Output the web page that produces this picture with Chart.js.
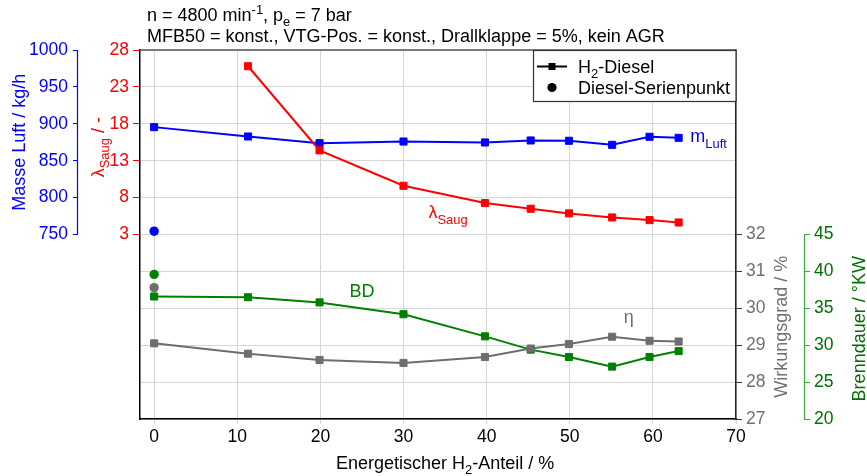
<!DOCTYPE html>
<html>
<head>
<meta charset="utf-8">
<script src="https://cdn.jsdelivr.net/npm/chart.js@4.4.1/dist/chart.umd.min.js"></script>
<style>
  html, body { margin: 0; padding: 0; background: #ffffff; }
  canvas { display: block; }
</style>
</head>
<body>
<canvas id="chart" width="867" height="476"></canvas>
<script>
// Energetic hydrogen share (%) of the H2-diesel operating points
const H2_ANTEIL = [0, 11.3, 19.9, 30.0, 39.8, 45.3, 49.9, 55.1, 59.6, 63.1];
// Air mass flow (kg/h)
const MASSE_LUFT = [895.5, 882.8, 873.8, 876.0, 874.7, 877.4, 877.0, 871.5, 882.4, 881.0];
// Intake air ratio lambda (-), no value for pure diesel
const LAMBDA_SAUG = [null, 25.8, 14.4, 9.6, 7.26, 6.49, 5.86, 5.31, 4.95, 4.63];
// Combustion duration (°CA)
const BRENNDAUER = [36.6, 36.5, 35.8, 34.2, 31.2, 29.4, 28.4, 27.1, 28.4, 29.2];
// Efficiency (%)
const WIRKUNGSGRAD = [29.05, 28.77, 28.60, 28.52, 28.68, 28.91, 29.03, 29.23, 29.12, 29.10];

// Diesel series operating point
const SERIE_H2 = [0];
const SERIE_MASSE_LUFT = [754.5];
const SERIE_BRENNDAUER = [39.6];
const SERIE_WIRKUNGSGRAD = [30.56];

// Tick labels shown on each axis
const X_TICKS = [0, 10, 20, 30, 40, 50, 60, 70];
const MASSE_TICKS = [750, 800, 850, 900, 950, 1000];
const LAMBDA_TICKS = [3, 8, 13, 18, 23, 28];
const ETA_TICKS = [27, 28, 29, 30, 31, 32];
const BD_TICKS = [20, 25, 30, 35, 40, 45];

const FONT = "'Liberation Sans', Arial, Helvetica, sans-serif";
const TEXT_SIZE = 18;
const COL = {
  blue: '#0000ff',
  red: '#ff0000',
  green: '#008000',
  greenAxis: '#3daa3d',
  greenText: '#007000',
  gray: '#6e6e6e',
  grayText: '#707070',
  grid: '#d6d6d6',
  frame: '#000000'
};

const points = (xs, ys) => xs.map((x, i) => ({ x, y: ys[i] })).filter(p => p.y !== null);
const fixedTicks = list => scale => { scale.ticks = list.map(v => ({ value: v })); };
const plainLabel = v => String(v);

// Text runs with sub- and superscripts: [[text, ''|'sub'|'sup'], ...]
function drawRich(ctx, parts, x, y, size, color, align) {
  const segs = parts.map(([t, k]) => {
    const fs = k ? size * 0.72 : size;
    const dy = k === 'sub' ? size * 0.30 : (k === 'sup' ? -size * 0.38 : 0);
    ctx.font = fs + 'px ' + FONT;
    return { t, fs, dy, w: ctx.measureText(t).width };
  });
  const total = segs.reduce((a, s) => a + s.w, 0);
  let cx = align === 'center' ? x - total / 2 : (align === 'right' ? x - total : x);
  ctx.fillStyle = color;
  ctx.textAlign = 'left';
  ctx.textBaseline = 'alphabetic';
  for (const s of segs) {
    ctx.font = s.fs + 'px ' + FONT;
    ctx.fillText(s.t, cx, y + s.dy);
    cx += s.w;
  }
}
function drawRichVertical(ctx, parts, baseX, centerY, size, color) {
  ctx.save();
  ctx.translate(baseX, centerY);
  ctx.rotate(-Math.PI / 2);
  drawRich(ctx, parts, 0, 0, size, color, 'center');
  ctx.restore();
}

const decorations = {
  id: 'decorations',
  afterDatasetsDraw(chart) {
    const ctx = chart.ctx;
    const area = chart.chartArea;
    const s = chart.scales;
    const T = TEXT_SIZE;
    ctx.save();

    // top frame line
    ctx.strokeStyle = '#555555';
    ctx.lineWidth = 1.5;
    ctx.beginPath();
    ctx.moveTo(area.left, area.top);
    ctx.lineTo(area.right, area.top);
    ctx.stroke();

    // partial axis lines of the outer axes
    ctx.lineWidth = 1.2;
    ctx.strokeStyle = COL.blue;
    ctx.beginPath();
    ctx.moveTo(s.yMass.right - 0.5, s.yMass.getPixelForValue(MASSE_TICKS[MASSE_TICKS.length - 1]));
    ctx.lineTo(s.yMass.right - 0.5, s.yMass.getPixelForValue(MASSE_TICKS[0]));
    ctx.stroke();
    ctx.strokeStyle = COL.greenAxis;
    ctx.beginPath();
    ctx.moveTo(s.yBD.left + 0.5, s.yBD.getPixelForValue(BD_TICKS[BD_TICKS.length - 1]));
    ctx.lineTo(s.yBD.left + 0.5, s.yBD.getPixelForValue(BD_TICKS[0]));
    ctx.stroke();

    // header
    drawRich(ctx, [['n = 4800 min', ''], ['-1', 'sup'], [', p', ''], ['e', 'sub'], [' = 7 bar', '']], 147, 21, T, '#000', 'left');
    drawRich(ctx, [['MFB50 = konst., VTG-Pos. = konst., Drallklappe = 5%, kein AGR', '']], 147, 42, T, '#000', 'left');

    // axis titles
    const midM = (s.yMass.getPixelForValue(MASSE_TICKS[0]) + s.yMass.getPixelForValue(MASSE_TICKS[MASSE_TICKS.length - 1])) / 2;
    drawRichVertical(ctx, [['Masse Luft / kg/h', '']], 25, midM, T, COL.blue);
    const midL = (s.yLam.getPixelForValue(LAMBDA_TICKS[0]) + s.yLam.getPixelForValue(LAMBDA_TICKS[LAMBDA_TICKS.length - 1])) / 2;
    drawRichVertical(ctx, [['λ', ''], ['Saug', 'sub'], [' / -', '']], 104, midL + 5, T, COL.red);
    const midE = (s.yEta.getPixelForValue(ETA_TICKS[0]) + s.yEta.getPixelForValue(ETA_TICKS[ETA_TICKS.length - 1])) / 2;
    drawRichVertical(ctx, [['Wirkungsgrad / %', '']], 787, midE, T, COL.grayText);
    const midB = (s.yBD.getPixelForValue(BD_TICKS[0]) + s.yBD.getPixelForValue(BD_TICKS[BD_TICKS.length - 1])) / 2;
    drawRichVertical(ctx, [['Brenndauer / °KW', '']], 865, midB + 2, T, COL.greenText);
    drawRich(ctx, [['Energetischer H', ''], ['2', 'sub'], ['-Anteil / %', '']], s.x.getPixelForValue(35), 469, T, '#000', 'center');

    // curve labels
    drawRich(ctx, [['m', ''], ['Luft', 'sub']], s.x.getPixelForValue(64.5), s.yMass.getPixelForValue(875), T, COL.blue, 'left');
    drawRich(ctx, [['λ', ''], ['Saug', 'sub']], s.x.getPixelForValue(33.0), s.yLam.getPixelForValue(5.2), T, COL.red, 'left');
    drawRich(ctx, [['BD', '']], s.x.getPixelForValue(23.5), s.yBD.getPixelForValue(36.5), T, COL.green, 'left');
    drawRich(ctx, [['η', '']], s.x.getPixelForValue(56.5), s.yEta.getPixelForValue(29.6), T, COL.grayText, 'left');

    // legend
    const lx = area.right - 203, ly = area.top + 0.5, lw = 203, lh = 51;
    ctx.fillStyle = '#ffffff';
    ctx.fillRect(lx, ly, lw, lh);
    ctx.strokeStyle = '#333333';
    ctx.lineWidth = 1.2;
    ctx.strokeRect(lx + 0.5, ly, lw - 0.5, lh);
    ctx.strokeStyle = '#000';
    ctx.lineWidth = 2;
    ctx.beginPath();
    ctx.moveTo(lx + 4, ly + 16);
    ctx.lineTo(lx + 34, ly + 16);
    ctx.stroke();
    ctx.fillStyle = '#000';
    ctx.fillRect(lx + 19 - 3.5, ly + 16 - 3.5, 7, 7);
    ctx.beginPath();
    ctx.arc(lx + 19, ly + 37, 4.6, 0, Math.PI * 2);
    ctx.fill();
    drawRich(ctx, [['H', ''], ['2', 'sub'], ['-Diesel', '']], lx + 45, ly + 22, T, '#000', 'left');
    drawRich(ctx, [['Diesel-Serienpunkt', '']], lx + 45, ly + 43, T, '#000', 'left');

    ctx.restore();
  }
};

const lineSet = (label, ys, axis, color) => ({
  label,
  data: points(H2_ANTEIL, ys),
  yAxisID: axis,
  showLine: true,
  borderColor: color,
  backgroundColor: color,
  borderWidth: 2,
  pointStyle: 'rect',
  pointRadius: 5,
  pointBorderWidth: 1,
  pointBorderColor: color,
  pointBackgroundColor: color
});
const dotSet = (label, xs, ys, axis, color) => ({
  label,
  data: points(xs, ys),
  yAxisID: axis,
  showLine: false,
  pointStyle: 'circle',
  pointRadius: 4.7,
  pointBorderWidth: 0,
  pointBackgroundColor: color,
  borderColor: color,
  backgroundColor: color
});

const tickFont = { family: FONT, size: 17.5 };

new Chart(document.getElementById('chart'), {
  type: 'scatter',
  data: {
    datasets: [
      lineSet('Wirkungsgrad', WIRKUNGSGRAD, 'yEta', COL.gray),
      lineSet('Brenndauer', BRENNDAUER, 'yBD', COL.green),
      lineSet('Lambda Saug', LAMBDA_SAUG, 'yLam', COL.red),
      lineSet('Masse Luft', MASSE_LUFT, 'yMass', COL.blue),
      dotSet('Serie Wirkungsgrad', SERIE_H2, SERIE_WIRKUNGSGRAD, 'yEta', COL.gray),
      dotSet('Serie Brenndauer', SERIE_H2, SERIE_BRENNDAUER, 'yBD', COL.green),
      dotSet('Serie Masse Luft', SERIE_H2, SERIE_MASSE_LUFT, 'yMass', COL.blue)
    ]
  },
  options: {
    responsive: false,
    animation: false,
    devicePixelRatio: 1,
    layout: { padding: { top: 50, left: 0, right: 0, bottom: 0 } },
    plugins: { legend: { display: false }, tooltip: { enabled: false }, title: { display: false } },
    scales: {
      x: {
        type: 'linear',
        position: 'bottom',
        min: -1.7,
        max: 70,
        afterBuildTicks: fixedTicks(X_TICKS),
        afterFit: sc => { sc.height = 57; },
        grid: { color: COL.grid, tickLength: 5, tickColor: COL.grid, lineWidth: 1 },
        border: { color: COL.frame, width: 1.5 },
        ticks: { color: '#000', font: tickFont, padding: 3, maxRotation: 0, autoSkip: false, callback: plainLabel }
      },
      yLam: {
        type: 'linear',
        position: 'left',
        weight: 0,
        min: -22,
        max: 28,
        afterBuildTicks: fixedTicks(LAMBDA_TICKS),
        afterFit: sc => { sc.width = 62; },
        grid: { drawOnChartArea: false, tickLength: 7, tickColor: COL.red },
        border: { color: COL.frame, width: 1.5 },
        ticks: { color: COL.red, font: tickFont, padding: 4, autoSkip: false, callback: plainLabel }
      },
      yMass: {
        type: 'linear',
        position: 'left',
        weight: 1,
        min: 500,
        max: 1000,
        afterBuildTicks: fixedTicks(MASSE_TICKS),
        afterFit: sc => { sc.width = 78; },
        grid: { drawOnChartArea: false, tickLength: 5, tickColor: COL.blue },
        border: { display: false },
        ticks: { color: COL.blue, font: tickFont, padding: 5, autoSkip: false, callback: plainLabel }
      },
      yEta: {
        type: 'linear',
        position: 'right',
        weight: 0,
        min: 27,
        max: 37,
        afterFit: sc => { sc.width = 68; },
        grid: {
          color: COL.grid,
          tickLength: 6,
          tickColor: c => (c.tick && ETA_TICKS.includes(c.tick.value)) ? '#333333' : 'rgba(0,0,0,0)'
        },
        border: { color: '#222222', width: 1.5 },
        ticks: {
          stepSize: 1,
          autoSkip: false,
          color: COL.grayText,
          font: tickFont,
          padding: 4,
          callback: v => ETA_TICKS.includes(v) ? String(v) : ''
        }
      },
      yBD: {
        type: 'linear',
        position: 'right',
        weight: 1,
        min: 20,
        max: 70,
        afterBuildTicks: fixedTicks(BD_TICKS),
        afterFit: sc => { sc.width = 63; },
        grid: { drawOnChartArea: false, tickLength: 6, tickColor: COL.greenAxis },
        border: { display: false },
        ticks: { color: COL.greenText, font: tickFont, padding: 4, autoSkip: false, callback: plainLabel }
      }
    }
  },
  plugins: [decorations]
});
</script>
</body>
</html>
